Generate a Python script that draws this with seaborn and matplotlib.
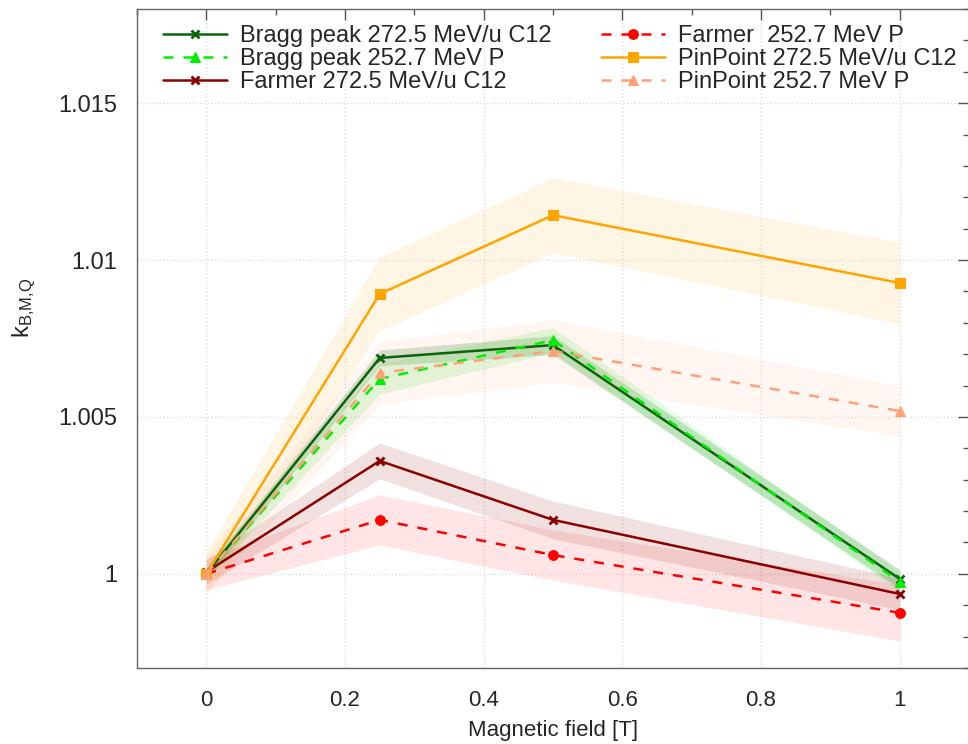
import numpy as np
import pandas as pd
import matplotlib
matplotlib.use("Agg")
import matplotlib.pyplot as plt
from matplotlib.ticker import MultipleLocator
import seaborn as sns

# Magnetic field values [T]
field = [0.0, 0.25, 0.5, 1.0]

# Beam quality correction factor k_B,M,Q per chamber / beam
bragg_c12 = [1.0000, 1.00688, 1.00729, 0.99984]
bragg_p = [1.0000, 1.00621, 1.00745, 0.99975]
farmer_c12 = [1.00006, 1.00360, 1.00172, 0.99936]
farmer_p = [1.0000, 1.00172, 1.00060, 0.99876]
pinpoint_c12 = [1.0000, 1.00892, 1.01143, 1.00927]
pinpoint_p = [1.0000, 1.00640, 1.00710, 1.00519]

# Uncertainty half-widths
bragg_c12_err = [0.0002, 0.00025, 0.0003, 0.0003]
bragg_p_err = [0.0002, 0.00048, 0.0004, 0.0003]
farmer_c12_err = [0.0004, 0.00057, 0.0006, 0.0005]
farmer_p_err = [0.0005, 0.0008, 0.0008, 0.0009]
pinpoint_c12_err = [0.0007, 0.00118, 0.0012, 0.0013]
pinpoint_p_err = [0.0006, 0.0010, 0.0010, 0.0008]

labels = [
    "Bragg peak 272.5 MeV/u C12",
    "Bragg peak 252.7 MeV P",
    "Farmer 272.5 MeV/u C12",
    "Farmer  252.7 MeV P",
    "PinPoint 272.5 MeV/u C12",
    "PinPoint 252.7 MeV P",
]

DASHED = (0, (4, 4))
series = [
    (bragg_c12, bragg_c12_err, "#0a640a", "x", "-", 6, 0.18),
    (bragg_p, bragg_p_err, "#00ee00", "^", DASHED, 7, 0.12),
    (farmer_c12, farmer_c12_err, "#8b0000", "x", "-", 6, 0.12),
    (farmer_p, farmer_p_err, "#ff0000", "o", DASHED, 7, 0.10),
    (pinpoint_c12, pinpoint_c12_err, "#ffa500", "s", "-", 7, 0.10),
    (pinpoint_p, pinpoint_p_err, "#ffa07a", "^", DASHED, 7, 0.10),
]

sns.set_theme(style="white")
plt.rcParams["font.family"] = ["Liberation Sans", "DejaVu Sans"]
plt.rcParams["mathtext.fontset"] = "custom"
plt.rcParams["mathtext.rm"] = "Liberation Sans"
plt.rcParams["mathtext.it"] = "Liberation Sans"

W, H = 968, 744
fig = plt.figure(figsize=(W / 100, H / 100), dpi=100)
ax = fig.add_axes([137 / W, 1 - 668 / H, 0.8595, 659 / H])

# uncertainty bands first, lines on top
for (vals, err, color, marker, ls, ms, alpha) in series:
    v = np.array(vals)
    e = np.array(err)
    ax.fill_between(field, v - e, v + e, color=color, alpha=alpha, linewidth=0, zorder=1)

for label, (vals, err, color, marker, ls, ms, alpha) in zip(labels, series):
    df = pd.DataFrame({"B": field, "k": vals})
    sns.lineplot(data=df, x="B", y="k", ax=ax, color=color, marker=marker,
                 markersize=ms, markeredgewidth=2 if marker == "x" else 0.8,
                 markeredgecolor=color, linewidth=1.8,
                 linestyle=ls, label=label, zorder=3)

ax.set_xlim(-0.1, 1.1)
ax.set_ylim(0.997, 1.018)
ax.xaxis.set_minor_locator(MultipleLocator(0.1))
ax.yaxis.set_minor_locator(MultipleLocator(0.001))
ax.set_xticks([0, 0.2, 0.4, 0.6, 0.8, 1.0])
ax.set_xticklabels(["0", "0.2", "0.4", "0.6", "0.8", "1"])
ax.set_yticks([1.0, 1.005, 1.01, 1.015])
ax.set_yticklabels(["1", "1.005", "1.01", "1.015"])
ax.tick_params(which="both", direction="in", top=True, right=True, color="#555555")
ax.tick_params(axis="y", which="major", length=8, width=1, labelsize=17, pad=14)
ax.tick_params(axis="x", which="major", length=8, width=1, labelsize=16, pad=16)
ax.tick_params(which="minor", length=4, width=1)
ax.grid(True, which="major", linestyle=":", color="#dddddd", linewidth=1)
for s in ax.spines.values():
    s.set_color("#666666")
    s.set_linewidth(1)

ax.set_xlabel("Magnetic field [T]", fontsize=16, labelpad=6)
ax.set_ylabel(r"$\mathregular{k_{B{,}M{,}Q}}$", fontsize=17)
ax.yaxis.set_label_coords((38 - 137) / 831, (668 - 308) / 659)

fig.legend(loc="upper left", bbox_to_anchor=(163 / W, 1 - 25 / H), ncol=2,
           frameon=False, fontsize=17, handlelength=2.7, columnspacing=2.1,
           labelspacing=0.05, borderpad=0, borderaxespad=0, handletextpad=0.55)
ax.get_legend().remove()

fig.savefig("out.png", dpi=100)
